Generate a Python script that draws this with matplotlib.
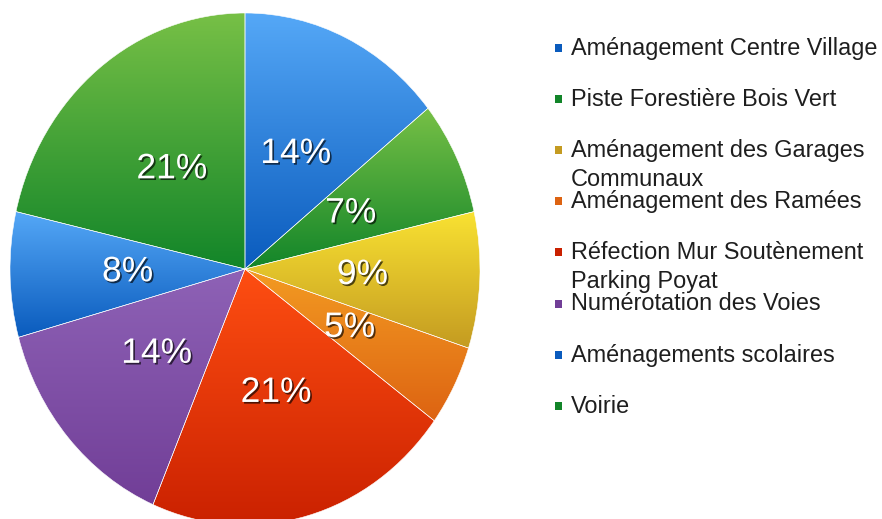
import matplotlib
matplotlib.use("Agg")
import matplotlib.pyplot as plt
import matplotlib.patheffects as pe
from matplotlib.colors import LinearSegmentedColormap
from matplotlib.patches import Rectangle
import numpy as np

plt.rcParams['font.family'] = ['Liberation Sans', 'DejaVu Sans']

categories = ["Aménagement Centre Village", "Piste Forestière Bois Vert",
              "Aménagement des Garages\nCommunaux", "Aménagement des Ramées",
              "Réfection Mur Soutènement\nParking Poyat", "Numérotation des Voies",
              "Aménagements scolaires", "Voirie"]
values = [14.2, 7.2, 8.6, 5.1, 21.3, 14.3, 7.9, 21.4]

# (top, bottom) of each slice's gradient
blue = ("#55a8f7", "#0a5bbd")
green = ("#77c046", "#128529")
yellow = ("#f9e232", "#c49b21")
orange = ("#f39b22", "#dd6312")
red = ("#fe4e12", "#c92000")
purple = ("#8e62b6", "#713e97")
colors = [blue, green, yellow, orange, red, purple, blue, green]

fig = plt.figure(figsize=(8.82, 5.19), dpi=100)
ax = fig.add_axes([10 / 882, -6 / 519, 470 / 882, 512 / 519])

wedges, texts, autotexts = ax.pie(values, startangle=90, counterclock=False, radius=1,
                                  colors=[c[0] for c in colors], autopct="%.0f%%",
                                  pctdistance=0.5,
                                  wedgeprops=dict(edgecolor="white", linewidth=0.4))

grad = np.linspace(1, 0, 256).reshape(-1, 1)
for w, c in zip(wedges, colors):
    v = w.get_path().vertices
    cmap = LinearSegmentedColormap.from_list("g", [c[1], c[0]])
    im = ax.imshow(grad, cmap=cmap, aspect="auto", interpolation="bicubic",
                   extent=[v[:, 0].min(), v[:, 0].max(), v[:, 1].min(), v[:, 1].max()],
                   zorder=w.get_zorder() + 0.1)
    im.set_clip_path(w)
    w.set_facecolor("none")
    w.set_zorder(w.get_zorder() + 0.2)

for t in autotexts:
    t.set_color("white")
    t.set_fontsize(25.5)
    t.set_zorder(5)
    t.set_path_effects([pe.withSimplePatchShadow(offset=(1.2, -1.2), shadow_rgbFace="black", alpha=0.65)])

ax.set_aspect("auto")
ax.set_xlim(-1, 1)
ax.set_ylim(-1, 1)
ax.axis("off")

# legend, fixed row spacing, wrapped lines run into the next row
y0 = 48
step = 51.1
for i, (lab, c) in enumerate(zip(categories, colors)):
    ypix = y0 + i * step
    fig.patches.append(Rectangle((555 / 882, 1 - (ypix + 4) / 519), 7 / 882, 8 / 519,
                                 transform=fig.transFigure, facecolor=c[1], edgecolor="none"))
    for j, line in enumerate(lab.split("\n")):
        fig.text(571 / 882, 1 - (ypix + 7 + 29 * j) / 519, line, fontsize=16.9,
                 color="#1e1e1e", va="baseline", ha="left")

fig.savefig("out.png", dpi=100)
